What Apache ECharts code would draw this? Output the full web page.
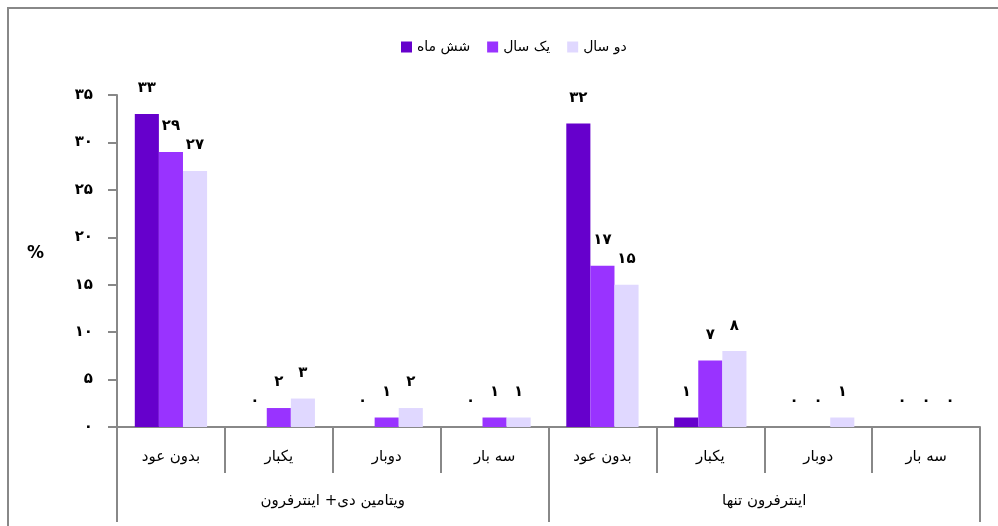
<!DOCTYPE html>
<html>
<head>
<meta charset="utf-8">
<script src="https://cdn.jsdelivr.net/npm/echarts@6/dist/echarts.min.js"></script>
<style>
  html, body { margin: 0; padding: 0; background: #fff; }
  #chart { width: 998px; height: 526px; }
</style>
</head>
<body>
<div id="chart"></div>
<script>
// Relapse counts (%) by follow-up period for each treatment group
const categories = ['بدون عود', 'یکبار', 'دوبار', 'سه بار', 'بدون عود', 'یکبار', 'دوبار', 'سه بار'];
const groups = ['ویتامین دی+ اینترفرون', 'اینترفرون تنها'];
const seriesNames = ['شش ماه', 'یک سال', 'دو سال'];
const sixMonths = [33, 0, 0, 0, 32, 1, 0, 0];
const oneYear = [29, 2, 1, 1, 17, 7, 0, 0];
const twoYears = [27, 3, 2, 1, 15, 8, 1, 0];
const colors = ['#6600cc', '#9933ff', '#e0d8ff'];

const FONT = 'DejaVu Sans';
const faDigits = '۰۱۲۳۴۵۶۷۸۹';
const toFa = v => String(v).replace(/[0-9]/g, d => faDigits[+d]);

const chart = echarts.init(document.getElementById('chart'), null, { renderer: 'canvas' });

const mkSeries = (name, data, color) => ({
  name: name,
  type: 'bar',
  xAxisIndex: 0,
  data: data,
  barGap: '0%',
  barCategoryGap: '33%',
  itemStyle: { color: color },
  label: {
    show: true,
    position: 'top',
    distance: 18,
    color: '#000',
    fontFamily: FONT,
    fontSize: 15,
    fontWeight: 'bold',
    formatter: p => toFa(p.value)
  }
});

chart.setOption({
  animation: false,
  backgroundColor: '#fff',
  textStyle: { fontFamily: FONT },
  legend: {
    data: seriesNames,
    left: 396,
    top: 35,
    itemWidth: 11,
    itemHeight: 11,
    itemGap: 17,
    icon: 'rect',
    textStyle: { fontFamily: FONT, fontSize: 14, color: '#000' }
  },
  grid: { left: 117, right: 18, top: 95, bottom: 99, containLabel: false },
  xAxis: [
    {
      type: 'category',
      position: 'bottom',
      data: categories,
      axisLine: { show: true, lineStyle: { color: '#888', width: 2 } },
      axisTick: { show: true, length: 46, lineStyle: { color: '#888', width: 2 } },
      axisLabel: { margin: 23, color: '#000', fontFamily: FONT, fontSize: 15 }
    },
    {
      type: 'category',
      position: 'bottom',
      offset: 0,
      data: groups,
      axisLine: { show: false },
      axisTick: { show: true, length: 95, lineStyle: { color: '#888', width: 2 } },
      axisLabel: { margin: 67, color: '#000', fontFamily: FONT, fontSize: 15 }
    }
  ],
  yAxis: {
    type: 'value',
    min: 0,
    max: 35,
    interval: 5,
    splitLine: { show: false },
    axisLine: { show: true, lineStyle: { color: '#888', width: 2 } },
    axisTick: { show: true, inside: false, length: 9, lineStyle: { color: '#888', width: 2 } },
    axisLabel: {
      margin: 24,
      color: '#000',
      fontFamily: FONT,
      fontSize: 15,
      fontWeight: 'bold',
      formatter: v => toFa(v)
    }
  },
  graphic: [
    {
      type: 'rect',
      shape: { x: 8, y: 8, width: 1100, height: 700 },
      style: { fill: 'none', stroke: '#888', lineWidth: 2 },
      silent: true
    },
    {
      type: 'text',
      left: 27,
      top: 245,
      style: { text: '%', fontFamily: FONT, fontSize: 17, fontWeight: 'bold', fill: '#000' }
    }
  ],
  series: [
    mkSeries(seriesNames[0], sixMonths, colors[0]),
    mkSeries(seriesNames[1], oneYear, colors[1]),
    mkSeries(seriesNames[2], twoYears, colors[2])
  ]
});
</script>
</body>
</html>
